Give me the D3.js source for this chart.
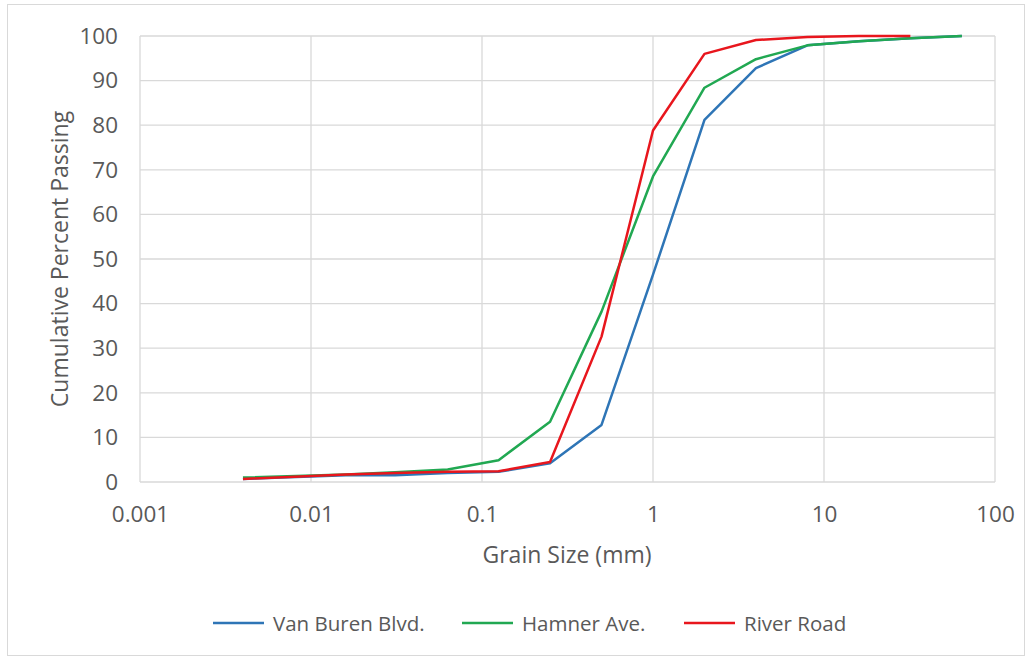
<!DOCTYPE html>
<html><head><meta charset="utf-8">
<script src="https://cdn.jsdelivr.net/npm/d3@7"></script>
<style>body{margin:0;background:#fff;} svg{display:block;}</style>
</head><body>
<svg id="c" width="1030" height="660"></svg>
<script>
const sizes = [0.004, 0.016, 0.031, 0.063, 0.125, 0.25, 0.5, 1, 2, 4, 8, 16, 32, 64];
const vanBuren = [0.7, 1.5, 1.5, 2.0, 2.3, 4.2, 12.8, 46.5, 81.2, 92.8, 97.9, 98.8, 99.5, 100];
const hamner   = [1.0, 1.7, 2.2, 2.8, 4.9, 13.5, 38.2, 68.5, 88.4, 94.8, 97.9, 98.8, 99.5, 100];
const riverRd  = [0.7, 1.7, 2.0, 2.3, 2.4, 4.5, 32.6, 78.8, 96.0, 99.1, 99.8, 100, 100];
const seriesNames = ["Van Buren Blvd.", "Hamner Ave.", "River Road"];
const xTicks = [0.001, 0.01, 0.1, 1, 10, 100];
const xTickLabels = ["0.001", "0.01", "0.1", "1", "10", "100"];
const yTicks = [0, 10, 20, 30, 40, 50, 60, 70, 80, 90, 100];

const colors = ["#2e75b6", "#21a852", "#e8161d"];
const series = [vanBuren, hamner, riverRd].map((vals, i) => ({
  name: seriesNames[i], color: colors[i],
  pts: vals.map((v, j) => ({x: sizes[j], y: v}))
}));

const svg = d3.select("#c");
const font = "'Open Sans', sans-serif";
const L = 140, R = 995, T = 36, B = 482;
const x = d3.scaleLog().domain([0.001, 100]).range([L, R]);
const y = d3.scaleLinear().domain([0, 100]).range([B, T]);

// outer frame
svg.append("rect").attr("x", 7.5).attr("y", 4.5).attr("width", 1017).attr("height", 651)
  .attr("fill", "none").attr("stroke", "#d9d9d9").attr("stroke-width", 1);

// gridlines
svg.append("g").selectAll("line").data(yTicks).join("line")
  .attr("x1", L).attr("x2", R).attr("y1", d => y(d)).attr("y2", d => y(d))
  .attr("stroke", "#d9d9d9").attr("stroke-width", 1.3);
svg.append("g").selectAll("line").data(xTicks).join("line")
  .attr("x1", d => x(d)).attr("x2", d => x(d)).attr("y1", T).attr("y2", B)
  .attr("stroke", "#d9d9d9").attr("stroke-width", 1.3);

// axes labels
const yAxis = d3.axisLeft(y).tickValues(yTicks).tickSize(0).tickPadding(22);
const gy = svg.append("g").attr("transform", `translate(${L},0)`).call(yAxis);
gy.select(".domain").remove();
gy.selectAll("text").attr("font-family", font).attr("font-size", 22.5).attr("fill", "#595959");

const xAxis = d3.axisBottom(x).tickValues(xTicks).tickFormat((d, i) => xTickLabels[i]).tickSize(0);
const gx = svg.append("g").attr("transform", `translate(0,${B})`).call(xAxis);
gx.select(".domain").remove();
gx.selectAll("text").attr("font-family", font).attr("font-size", 22.5).attr("fill", "#595959")
  .attr("y", 40).attr("dy", 0);

// lines
const line = d3.line().x(d => x(d.x)).y(d => y(d.y));
svg.append("g").selectAll("path").data(series).join("path")
  .attr("d", d => line(d.pts)).attr("fill", "none")
  .attr("stroke", d => d.color).attr("stroke-width", 2.5).attr("stroke-linejoin", "round");

// titles
svg.append("text").attr("x", 567).attr("y", 563).attr("text-anchor", "middle")
  .attr("font-family", font).attr("font-size", 23).attr("fill", "#595959").text("Grain Size (mm)");
svg.append("text").attr("transform", `translate(68,259) rotate(-90)`).attr("text-anchor", "middle")
  .attr("font-family", font).attr("font-size", 23).attr("fill", "#595959").text("Cumulative Percent Passing");

// legend
const legX = [213, 462, 684];
const lg = svg.append("g").selectAll("g").data(series).join("g")
  .attr("transform", (d, i) => `translate(${legX[i]},623)`);
lg.append("line").attr("x1", 0).attr("x2", 51).attr("y1", 0).attr("y2", 0)
  .attr("stroke", d => d.color).attr("stroke-width", 2.5);
lg.append("text").attr("x", 60).attr("y", 7.5).attr("font-family", font).attr("font-size", 20.5)
  .attr("fill", "#595959").text(d => d.name);
</script>
</body></html>
